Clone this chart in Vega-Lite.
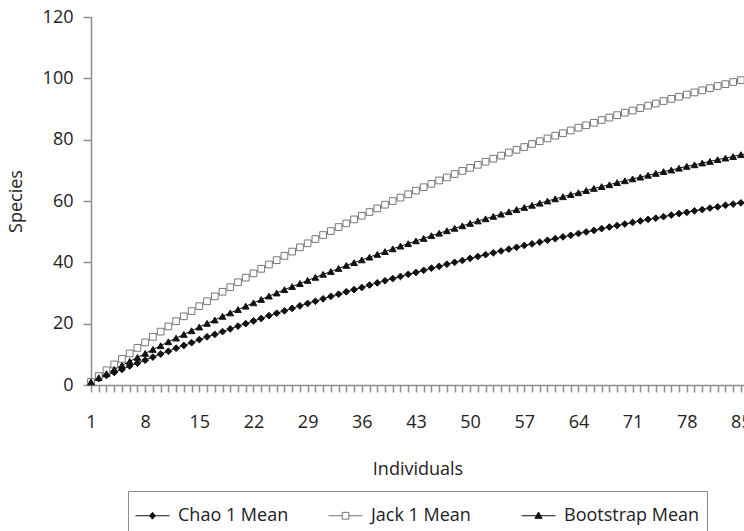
{
  "$schema": "https://vega.github.io/schema/vega-lite/v6.json",
  "width": 653,
  "height": 368,
  "autosize": "none",
  "padding": {"left": 91, "top": 17, "right": 0, "bottom": 146},
  "background": "white",
  "config": {
    "font": "Open Sans",
    "view": {"stroke": null},
    "axis": {
      "grid": false,
      "domainColor": "#8c8c8c",
      "domainWidth": 1.5,
      "tickColor": "#8c8c8c",
      "tickWidth": 1.5,
      "labelFontSize": 18,
      "labelColor": "#222222",
      "titleFontSize": 18,
      "titleFontWeight": "normal",
      "titleColor": "#222222"
    }
  },
  "data": {
    "values": [
      {"n": 1, "Chao 1 Mean": 1.0, "Jack 1 Mean": 1.0, "Bootstrap Mean": 1.0},
      {"n": 2, "Chao 1 Mean": 2.1, "Jack 1 Mean": 2.9, "Bootstrap Mean": 2.4},
      {"n": 3, "Chao 1 Mean": 3.1, "Jack 1 Mean": 4.8, "Bootstrap Mean": 3.7},
      {"n": 4, "Chao 1 Mean": 4.1, "Jack 1 Mean": 6.7, "Bootstrap Mean": 5.1},
      {"n": 5, "Chao 1 Mean": 5.1, "Jack 1 Mean": 8.5, "Bootstrap Mean": 6.4},
      {"n": 6, "Chao 1 Mean": 6.2, "Jack 1 Mean": 10.3, "Bootstrap Mean": 7.7},
      {"n": 7, "Chao 1 Mean": 7.1, "Jack 1 Mean": 12.1, "Bootstrap Mean": 9.0},
      {"n": 8, "Chao 1 Mean": 8.1, "Jack 1 Mean": 13.9, "Bootstrap Mean": 10.3},
      {"n": 9, "Chao 1 Mean": 9.1, "Jack 1 Mean": 15.7, "Bootstrap Mean": 11.6},
      {"n": 10, "Chao 1 Mean": 10.1, "Jack 1 Mean": 17.4, "Bootstrap Mean": 12.8},
      {"n": 11, "Chao 1 Mean": 11.0, "Jack 1 Mean": 19.1, "Bootstrap Mean": 14.1},
      {"n": 12, "Chao 1 Mean": 12.0, "Jack 1 Mean": 20.8, "Bootstrap Mean": 15.3},
      {"n": 13, "Chao 1 Mean": 12.9, "Jack 1 Mean": 22.4, "Bootstrap Mean": 16.5},
      {"n": 14, "Chao 1 Mean": 13.8, "Jack 1 Mean": 24.1, "Bootstrap Mean": 17.7},
      {"n": 15, "Chao 1 Mean": 14.8, "Jack 1 Mean": 25.7, "Bootstrap Mean": 18.9},
      {"n": 16, "Chao 1 Mean": 15.7, "Jack 1 Mean": 27.3, "Bootstrap Mean": 20.1},
      {"n": 17, "Chao 1 Mean": 16.5, "Jack 1 Mean": 28.9, "Bootstrap Mean": 21.2},
      {"n": 18, "Chao 1 Mean": 17.4, "Jack 1 Mean": 30.4, "Bootstrap Mean": 22.4},
      {"n": 19, "Chao 1 Mean": 18.3, "Jack 1 Mean": 31.9, "Bootstrap Mean": 23.5},
      {"n": 20, "Chao 1 Mean": 19.2, "Jack 1 Mean": 33.5, "Bootstrap Mean": 24.6},
      {"n": 21, "Chao 1 Mean": 20.0, "Jack 1 Mean": 35.0, "Bootstrap Mean": 25.7},
      {"n": 22, "Chao 1 Mean": 20.9, "Jack 1 Mean": 36.4, "Bootstrap Mean": 26.8},
      {"n": 23, "Chao 1 Mean": 21.7, "Jack 1 Mean": 37.9, "Bootstrap Mean": 27.9},
      {"n": 24, "Chao 1 Mean": 22.6, "Jack 1 Mean": 39.3, "Bootstrap Mean": 29.0},
      {"n": 25, "Chao 1 Mean": 23.4, "Jack 1 Mean": 40.7, "Bootstrap Mean": 30.0},
      {"n": 26, "Chao 1 Mean": 24.2, "Jack 1 Mean": 42.1, "Bootstrap Mean": 31.1},
      {"n": 27, "Chao 1 Mean": 25.0, "Jack 1 Mean": 43.5, "Bootstrap Mean": 32.1},
      {"n": 28, "Chao 1 Mean": 25.8, "Jack 1 Mean": 44.9, "Bootstrap Mean": 33.1},
      {"n": 29, "Chao 1 Mean": 26.6, "Jack 1 Mean": 46.2, "Bootstrap Mean": 34.1},
      {"n": 30, "Chao 1 Mean": 27.3, "Jack 1 Mean": 47.6, "Bootstrap Mean": 35.1},
      {"n": 31, "Chao 1 Mean": 28.1, "Jack 1 Mean": 48.9, "Bootstrap Mean": 36.1},
      {"n": 32, "Chao 1 Mean": 28.9, "Jack 1 Mean": 50.2, "Bootstrap Mean": 37.0},
      {"n": 33, "Chao 1 Mean": 29.6, "Jack 1 Mean": 51.5, "Bootstrap Mean": 38.0},
      {"n": 34, "Chao 1 Mean": 30.4, "Jack 1 Mean": 52.7, "Bootstrap Mean": 39.0},
      {"n": 35, "Chao 1 Mean": 31.1, "Jack 1 Mean": 54.0, "Bootstrap Mean": 39.9},
      {"n": 36, "Chao 1 Mean": 31.8, "Jack 1 Mean": 55.2, "Bootstrap Mean": 40.8},
      {"n": 37, "Chao 1 Mean": 32.6, "Jack 1 Mean": 56.4, "Bootstrap Mean": 41.7},
      {"n": 38, "Chao 1 Mean": 33.3, "Jack 1 Mean": 57.6, "Bootstrap Mean": 42.6},
      {"n": 39, "Chao 1 Mean": 34.0, "Jack 1 Mean": 58.8, "Bootstrap Mean": 43.5},
      {"n": 40, "Chao 1 Mean": 34.7, "Jack 1 Mean": 60.0, "Bootstrap Mean": 44.4},
      {"n": 41, "Chao 1 Mean": 35.4, "Jack 1 Mean": 61.1, "Bootstrap Mean": 45.3},
      {"n": 42, "Chao 1 Mean": 36.1, "Jack 1 Mean": 62.2, "Bootstrap Mean": 46.1},
      {"n": 43, "Chao 1 Mean": 36.7, "Jack 1 Mean": 63.4, "Bootstrap Mean": 47.0},
      {"n": 44, "Chao 1 Mean": 37.4, "Jack 1 Mean": 64.5, "Bootstrap Mean": 47.8},
      {"n": 45, "Chao 1 Mean": 38.1, "Jack 1 Mean": 65.6, "Bootstrap Mean": 48.7},
      {"n": 46, "Chao 1 Mean": 38.7, "Jack 1 Mean": 66.7, "Bootstrap Mean": 49.5},
      {"n": 47, "Chao 1 Mean": 39.4, "Jack 1 Mean": 67.7, "Bootstrap Mean": 50.3},
      {"n": 48, "Chao 1 Mean": 40.0, "Jack 1 Mean": 68.8, "Bootstrap Mean": 51.1},
      {"n": 49, "Chao 1 Mean": 40.6, "Jack 1 Mean": 69.8, "Bootstrap Mean": 51.9},
      {"n": 50, "Chao 1 Mean": 41.3, "Jack 1 Mean": 70.8, "Bootstrap Mean": 52.7},
      {"n": 51, "Chao 1 Mean": 41.9, "Jack 1 Mean": 71.8, "Bootstrap Mean": 53.5},
      {"n": 52, "Chao 1 Mean": 42.5, "Jack 1 Mean": 72.8, "Bootstrap Mean": 54.2},
      {"n": 53, "Chao 1 Mean": 43.1, "Jack 1 Mean": 73.8, "Bootstrap Mean": 55.0},
      {"n": 54, "Chao 1 Mean": 43.7, "Jack 1 Mean": 74.8, "Bootstrap Mean": 55.7},
      {"n": 55, "Chao 1 Mean": 44.3, "Jack 1 Mean": 75.8, "Bootstrap Mean": 56.5},
      {"n": 56, "Chao 1 Mean": 44.9, "Jack 1 Mean": 76.7, "Bootstrap Mean": 57.2},
      {"n": 57, "Chao 1 Mean": 45.5, "Jack 1 Mean": 77.6, "Bootstrap Mean": 57.9},
      {"n": 58, "Chao 1 Mean": 46.0, "Jack 1 Mean": 78.6, "Bootstrap Mean": 58.6},
      {"n": 59, "Chao 1 Mean": 46.6, "Jack 1 Mean": 79.5, "Bootstrap Mean": 59.3},
      {"n": 60, "Chao 1 Mean": 47.2, "Jack 1 Mean": 80.4, "Bootstrap Mean": 60.0},
      {"n": 61, "Chao 1 Mean": 47.7, "Jack 1 Mean": 81.3, "Bootstrap Mean": 60.7},
      {"n": 62, "Chao 1 Mean": 48.3, "Jack 1 Mean": 82.1, "Bootstrap Mean": 61.4},
      {"n": 63, "Chao 1 Mean": 48.8, "Jack 1 Mean": 83.0, "Bootstrap Mean": 62.1},
      {"n": 64, "Chao 1 Mean": 49.4, "Jack 1 Mean": 83.9, "Bootstrap Mean": 62.7},
      {"n": 65, "Chao 1 Mean": 49.9, "Jack 1 Mean": 84.7, "Bootstrap Mean": 63.4},
      {"n": 66, "Chao 1 Mean": 50.4, "Jack 1 Mean": 85.5, "Bootstrap Mean": 64.1},
      {"n": 67, "Chao 1 Mean": 51.0, "Jack 1 Mean": 86.4, "Bootstrap Mean": 64.7},
      {"n": 68, "Chao 1 Mean": 51.5, "Jack 1 Mean": 87.2, "Bootstrap Mean": 65.3},
      {"n": 69, "Chao 1 Mean": 52.0, "Jack 1 Mean": 88.0, "Bootstrap Mean": 66.0},
      {"n": 70, "Chao 1 Mean": 52.5, "Jack 1 Mean": 88.8, "Bootstrap Mean": 66.6},
      {"n": 71, "Chao 1 Mean": 53.0, "Jack 1 Mean": 89.5, "Bootstrap Mean": 67.2},
      {"n": 72, "Chao 1 Mean": 53.5, "Jack 1 Mean": 90.3, "Bootstrap Mean": 67.8},
      {"n": 73, "Chao 1 Mean": 54.0, "Jack 1 Mean": 91.1, "Bootstrap Mean": 68.4},
      {"n": 74, "Chao 1 Mean": 54.4, "Jack 1 Mean": 91.8, "Bootstrap Mean": 69.0},
      {"n": 75, "Chao 1 Mean": 54.9, "Jack 1 Mean": 92.6, "Bootstrap Mean": 69.6},
      {"n": 76, "Chao 1 Mean": 55.4, "Jack 1 Mean": 93.3, "Bootstrap Mean": 70.1},
      {"n": 77, "Chao 1 Mean": 55.9, "Jack 1 Mean": 94.0, "Bootstrap Mean": 70.7},
      {"n": 78, "Chao 1 Mean": 56.3, "Jack 1 Mean": 94.7, "Bootstrap Mean": 71.3},
      {"n": 79, "Chao 1 Mean": 56.8, "Jack 1 Mean": 95.4, "Bootstrap Mean": 71.8},
      {"n": 80, "Chao 1 Mean": 57.2, "Jack 1 Mean": 96.1, "Bootstrap Mean": 72.4},
      {"n": 81, "Chao 1 Mean": 57.7, "Jack 1 Mean": 96.8, "Bootstrap Mean": 72.9},
      {"n": 82, "Chao 1 Mean": 58.1, "Jack 1 Mean": 97.5, "Bootstrap Mean": 73.5},
      {"n": 83, "Chao 1 Mean": 58.6, "Jack 1 Mean": 98.1, "Bootstrap Mean": 74.0},
      {"n": 84, "Chao 1 Mean": 59.0, "Jack 1 Mean": 98.8, "Bootstrap Mean": 74.5},
      {"n": 85, "Chao 1 Mean": 59.4, "Jack 1 Mean": 99.4, "Bootstrap Mean": 75.1},
      {"n": 86, "Chao 1 Mean": 59.9, "Jack 1 Mean": 100.1, "Bootstrap Mean": 75.6}
    ]
  },
  "transform": [
    {"fold": ["Chao 1 Mean", "Jack 1 Mean", "Bootstrap Mean"], "as": ["Series", "Species"]}
  ],
  "encoding": {
    "x": {
      "field": "n",
      "type": "quantitative",
      "title": "Individuals",
      "scale": {"domain": [1, 85.4], "nice": false, "zero": false},
      "axis": {
        "values": [1,2,3,4,5,6,7,8,9,10,11,12,13,14,15,16,17,18,19,20,21,22,23,24,25,26,27,28,29,30,31,32,33,34,35,36,37,38,39,40,41,42,43,44,45,46,47,48,49,50,51,52,53,54,55,56,57,58,59,60,61,62,63,64,65,66,67,68,69,70,71,72,73,74,75,76,77,78,79,80,81,82,83,84,85],
        "labelExpr": "(datum.value - 1) % 7 == 0 ? datum.label : ''",
        "labelOverlap": false,
        "labelFlush": false,
        "labelBound": false,
        "tickSize": 7,
        "labelPadding": 21,
        "titlePadding": 29
      }
    },
    "y": {
      "field": "Species",
      "type": "quantitative",
      "title": "Species",
      "scale": {"domain": [0, 120], "nice": false},
      "axis": {
        "values": [0, 20, 40, 60, 80, 100, 120],
        "tickSize": 8,
        "labelPadding": 10,
        "titlePadding": 17
      }
    }
  },
  "layer": [
    {
      "mark": {
        "type": "line",
        "strokeWidth": 1,
        "stroke": {"expr": "datum.Series == 'Jack 1 Mean' ? '#777777' : '#111111'"}
      },
      "encoding": {
        "detail": {"field": "Series", "type": "nominal"}
      }
    },
    {
      "mark": {
        "type": "point",
        "strokeWidth": 1,
        "opacity": 1,
        "size": 45,
        "shape": {"expr": "datum.Series == 'Chao 1 Mean' ? 'diamond' : datum.Series == 'Jack 1 Mean' ? 'square' : 'triangle-up'"},
        "fill": {"expr": "datum.Series == 'Jack 1 Mean' ? '#ffffff' : '#111111'"},
        "stroke": {"expr": "datum.Series == 'Jack 1 Mean' ? '#777777' : '#111111'"}
      },
      "encoding": {}
    },
    {
      "mark": {"type": "point", "filled": true, "opacity": 0, "strokeWidth": 1},
      "encoding": {
        "shape": {
          "field": "Series",
          "type": "nominal",
          "scale": {
            "domain": ["Chao 1 Mean", "Jack 1 Mean", "Bootstrap Mean"],
            "range": [
              "M-1,0H1M0,-0.2L0.17,0L0,0.2L-0.17,0Z",
              "M-1,0H-0.2M0.2,0H1M-0.2,-0.2H0.2V0.2H-0.2Z",
              "M-1,0H1M0,-0.22L0.21,0.15H-0.21Z"
            ]
          },
          "legend": {
            "title": null,
            "orient": "none",
            "legendX": 37,
            "legendY": 474,
            "direction": "horizontal",
            "columns": 3,
            "gridAlign": "all",
            "columnPadding": 12,
            "padding": 7,
            "strokeColor": "#8c8c8c",
            "symbolSize": 1156,
            "symbolStrokeWidth": 1,
            "symbolOpacity": 1,
            "labelFontSize": 18,
            "labelColor": "#222222",
            "labelOffset": 8
          }
        },
        "fill": {
          "field": "Series",
          "type": "nominal",
          "scale": {"domain": ["Chao 1 Mean", "Jack 1 Mean", "Bootstrap Mean"], "range": ["#111111", "#ffffff", "#111111"]}
        },
        "stroke": {
          "field": "Series",
          "type": "nominal",
          "scale": {"domain": ["Chao 1 Mean", "Jack 1 Mean", "Bootstrap Mean"], "range": ["#111111", "#777777", "#111111"]}
        }
      }
    }
  ]
}
